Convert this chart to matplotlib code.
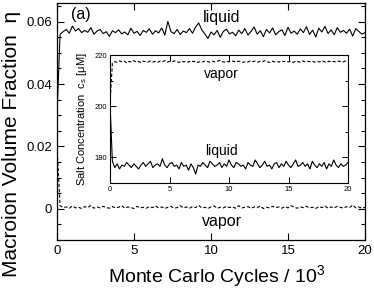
import numpy as np
import matplotlib
matplotlib.use('Agg')
import matplotlib.pyplot as plt
from matplotlib.ticker import MultipleLocator, FuncFormatter

plt.rcParams['font.family'] = ['Liberation Sans', 'DejaVu Sans']
plt.rcParams['mathtext.fontset'] = 'custom'
plt.rcParams['mathtext.rm'] = 'Liberation Sans'
plt.rcParams['mathtext.it'] = 'Liberation Sans'

# Monte Carlo cycles / 10^3 (one sample every 200 cycles)
cycles = np.arange(0, 101) * 0.2

# macroion volume fraction, liquid box
liquid_eta = [
    0.0300, 0.0560, 0.0568, 0.0575, 0.0563, 0.0586, 0.0570, 0.0578, 0.0565, 0.0572,
    0.0566, 0.0581, 0.0560, 0.0570, 0.0575, 0.0562, 0.0568, 0.0553, 0.0571, 0.0565,
    0.0574, 0.0561, 0.0567, 0.0558, 0.0579, 0.0563, 0.0569, 0.0556, 0.0572, 0.0566,
    0.0577, 0.0560, 0.0571, 0.0564, 0.0580, 0.0557, 0.0601, 0.0568, 0.0562, 0.0575,
    0.0559, 0.0570, 0.0565, 0.0578, 0.0563, 0.0583, 0.0596, 0.0574, 0.0561, 0.0546,
    0.0567, 0.0558, 0.0572, 0.0550, 0.0569, 0.0576, 0.0561, 0.0566, 0.0555, 0.0573,
    0.0562, 0.0578, 0.0557, 0.0569, 0.0583, 0.0560, 0.0571, 0.0552, 0.0575, 0.0564,
    0.0580, 0.0558, 0.0568, 0.0574, 0.0556, 0.0582, 0.0563, 0.0570, 0.0560, 0.0577,
    0.0565, 0.0584, 0.0559, 0.0573, 0.0551, 0.0579, 0.0567, 0.0585, 0.0562, 0.0574,
    0.0558, 0.0581, 0.0566, 0.0572, 0.0563, 0.0576, 0.0554, 0.0578, 0.0569, 0.0560,
    0.0565]

# macroion volume fraction, vapor box
vapor_eta = [
    0.0200, 0.0010, 0.0004, 0.0006, 0.0002, 0.0009, 0.0003, 0.0005, 0.0001, 0.0007,
    0.0004, 0.0011, 0.0002, 0.0006, 0.0003, 0.0008, 0.0004, 0.0002, 0.0007, 0.0003,
    0.0005, 0.0010, 0.0002, 0.0006, 0.0004, 0.0001, 0.0008, 0.0003, 0.0005, 0.0002,
    0.0007, 0.0004, 0.0009, 0.0003, 0.0006, 0.0001, 0.0005, 0.0008, 0.0002, 0.0004,
    0.0010, 0.0003, 0.0006, 0.0002, 0.0007, 0.0004, 0.0011, 0.0003, 0.0005, 0.0001,
    0.0006, 0.0009, 0.0002, 0.0005, 0.0003, 0.0008, 0.0004, 0.0006, 0.0002, 0.0010,
    0.0003, 0.0005, 0.0007, 0.0002, 0.0006, 0.0004, 0.0009, 0.0001, 0.0005, 0.0003,
    0.0008, 0.0004, 0.0006, 0.0002, 0.0007, 0.0003, 0.0010, 0.0005, 0.0002, 0.0006,
    0.0004, 0.0008, 0.0003, 0.0005, 0.0001, 0.0007, 0.0004, 0.0009, 0.0002, 0.0006,
    0.0003, 0.0008, 0.0005, 0.0002, 0.0007, 0.0004, 0.0012, 0.0003, 0.0006, 0.0002,
    0.0005]

# salt concentration (uM), liquid box
cs_liquid = [
    201.0, 178.5, 176.0, 177.5, 175.5, 177.0, 176.5, 178.0, 177.0, 176.0,
    177.5, 176.5, 175.5, 177.0, 178.0, 176.5, 177.5, 178.5, 176.0, 177.0,
    177.5, 176.5, 179.5, 177.0, 176.0, 177.5, 178.0, 176.5, 177.0, 175.5,
    178.0, 176.5, 177.0, 175.0, 177.5, 176.0, 173.5, 177.0, 176.5, 178.0,
    177.0, 176.0, 178.5, 177.5, 176.5, 177.0, 178.0, 176.0, 177.5, 176.5,
    179.0, 177.0, 176.0, 178.0, 177.5, 176.5, 177.0, 175.5, 178.0, 177.0,
    176.5, 179.0, 177.5, 176.0, 177.0, 178.5, 176.5, 177.0, 175.5, 177.5,
    178.0, 176.0, 177.5, 176.5, 178.5, 177.0, 176.0, 177.5, 179.0, 176.5,
    177.0, 178.0, 176.5, 177.5, 175.5, 178.5, 177.0, 176.0, 177.5, 176.5,
    178.0, 175.5, 177.5, 176.5, 179.0, 177.0, 176.0, 177.5, 176.5, 177.0,
    178.0]

# salt concentration (uM), vapor box
cs_vapor = [
    201.0, 216.8, 217.4, 217.1, 217.7, 217.3, 217.6, 216.9, 217.5, 217.2,
    217.8, 217.3, 217.5, 217.0, 217.6, 217.4, 217.2, 217.7, 217.3, 217.5,
    217.1, 217.6, 217.4, 217.8, 217.2, 217.5, 217.3, 217.7, 217.4, 217.1,
    217.6, 217.3, 217.5, 217.2, 217.8, 217.4, 217.6, 217.1, 217.5, 217.3,
    217.7, 217.4, 217.2, 217.6, 217.3, 217.5, 217.9, 217.4, 217.2, 217.6,
    217.3, 217.7, 217.5, 217.2, 217.6, 217.4, 217.1, 217.5, 217.3, 217.7,
    217.4, 217.6, 217.2, 217.5, 217.3, 217.8, 217.4, 217.1, 217.6, 217.3,
    217.5, 217.2, 217.7, 217.4, 217.6, 217.3, 217.5, 217.1, 217.6, 217.4,
    217.2, 217.7, 217.3, 217.5, 217.4, 217.6, 217.2, 217.5, 217.3, 217.7,
    217.4, 217.1, 217.6, 217.3, 217.5, 217.2, 217.6, 217.4, 217.3, 217.7,
    217.5]

W, H = 374, 288
fig = plt.figure(figsize=(W / 100, H / 100), dpi=100)

def px_axes(l, t, r, b):
    return [l / W, 1 - b / H, (r - l) / W, (b - t) / H]

dash = (0, (3, 1.8))

ax = fig.add_axes(px_axes(57, 3, 365, 240))
ax.plot(cycles, liquid_eta, color='black', lw=0.8)
ax.plot(cycles, vapor_eta, color='black', lw=0.8, linestyle=dash)
ax.set_xlim(0, 20)
ax.set_ylim(-0.01, 0.066)
ax.xaxis.set_major_locator(MultipleLocator(5))
ax.yaxis.set_major_locator(MultipleLocator(0.02))
ax.yaxis.set_minor_locator(MultipleLocator(0.005))
ax.yaxis.set_major_formatter(FuncFormatter(lambda v, p: '%g' % round(v, 4)))
ax.tick_params(which='both', direction='in', top=True, right=True, labelsize=9.5)
ax.tick_params(which='major', length=5, width=0.8)
ax.tick_params(which='minor', length=3, width=0.8)
for s in ax.spines.values():
    s.set_linewidth(0.9)
# x label placed by hand, baseline near the bottom edge like the original
fig.text(217 / W, 1 - 282 / H, 'Monte Carlo Cycles / 10$^3$', ha='center',
         va='baseline', fontsize=14)
fig.text(12 / W, 1 - 277 / H, 'Macroion Volume Fraction  η', rotation=90,
         ha='center', va='bottom', fontsize=15)
ax.text(1.55, 0.0622, '(a)', fontsize=11.5, ha='center', va='center')
ax.text(10.7, 0.0613, 'liquid', fontsize=11.5, ha='center', va='center')
ax.text(10.7, -0.0042, 'vapor', fontsize=11.5, ha='center', va='center')

ins = fig.add_axes(px_axes(110, 55, 348, 183))
ins.plot(cycles, cs_liquid, color='black', lw=0.8)
ins.plot(cycles, cs_vapor, color='black', lw=0.8, linestyle=dash)
ins.set_xlim(0, 20)
ins.set_ylim(170, 220)
ins.xaxis.set_major_locator(MultipleLocator(5))
ins.yaxis.set_major_locator(MultipleLocator(20))
ins.yaxis.set_minor_locator(MultipleLocator(10))
ins.tick_params(which='both', direction='in', top=True, right=True, labelsize=5.5, pad=2)
ins.tick_params(which='major', length=4, width=0.7)
ins.tick_params(which='minor', length=2.5, width=0.7)
for s in ins.spines.values():
    s.set_linewidth(0.8)
ins.set_ylabel('Salt Concentration  c$_s$ [μM]', fontsize=8, labelpad=4)
ins.text(9.4, 212.5, 'vapor', fontsize=10, ha='center', va='center')
ins.text(9.4, 182.4, 'liquid', fontsize=10, ha='center', va='center')

fig.savefig('out.png', dpi=100)
